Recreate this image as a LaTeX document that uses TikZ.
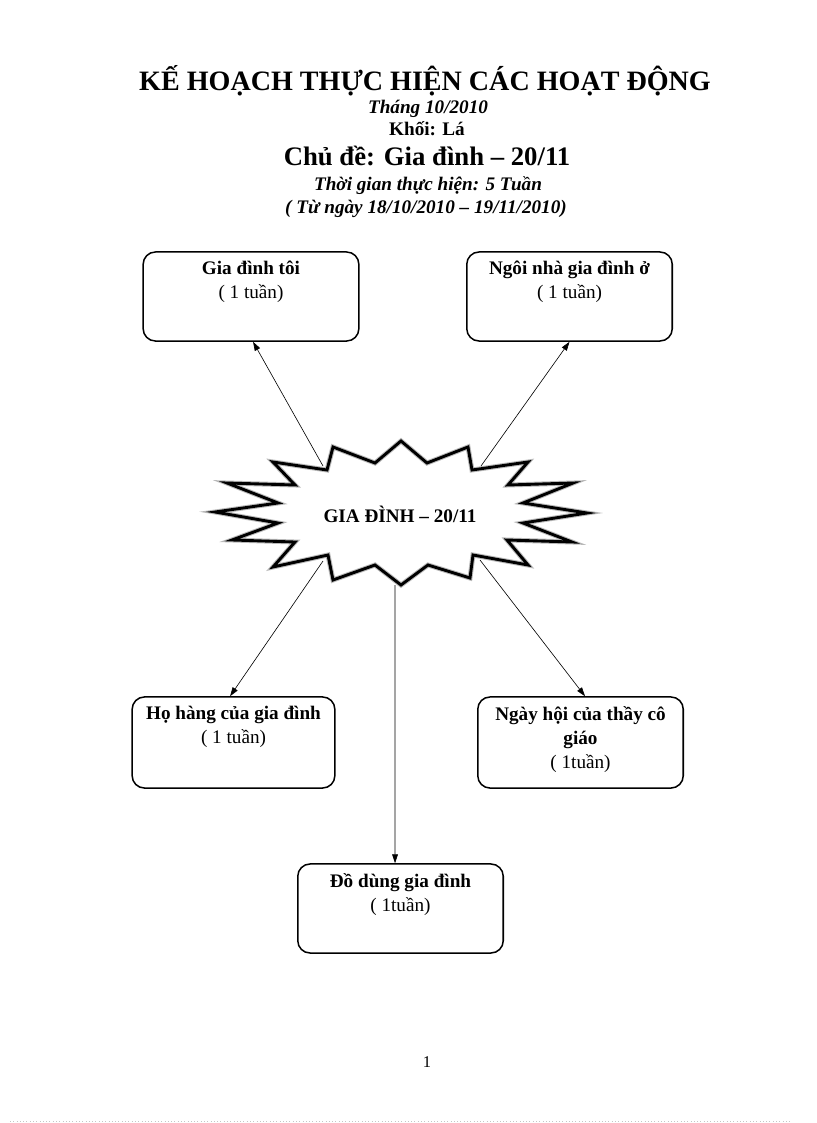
\documentclass[tikz,border=0pt]{standalone}
\usepackage{fontspec}
\setmainfont{Liberation Serif}
\usetikzlibrary{arrows.meta}

\tikzset{
  topicbox/.style={draw,line width=1.1pt,rounded corners=9pt,minimum width=150pt,minimum height=65pt},
  topictext/.style={anchor=north,align=center,inner sep=0pt,font=\fontsize{14}{17.5}\selectfont},
  subline/.style={anchor=base,font=\bfseries\itshape\fontsize{14}{16}\selectfont},
  link/.style={->,line width=0.45pt},
}

\begin{document}
\begin{tikzpicture}[x=0.73pt,y=-0.73pt,>={Triangle[length=2.3mm,width=1.5mm]}]
\useasboundingbox (0,0) rectangle (816,1123);
% heading
\node[anchor=base,font=\bfseries\fontsize{20.5}{24}\selectfont] (title) at (425,91) {KẾ HOẠCH THỰC HIỆN CÁC HOẠT ĐỘNG};
\node[subline] (month) at (428,114) {Tháng 10/2010};
\node[subline,font=\bfseries\fontsize{14}{16}\selectfont] (grade) at (427,136) {Khối: Lá};
\node[anchor=base,font=\bfseries\fontsize{19.5}{22}\selectfont] (theme) at (427,166) {Chủ đề: Gia đình – 20/11};
\node[subline] (span) at (428,190) {Thời gian thực hiện: 5 Tuần};
\node[subline] (dates) at (426,213) {( Từ ngày 18/10/2010 – 19/11/2010)};

% starburst
\foreach \w/\c in {3.6pt/gray!55,2.1pt/black}
  \draw[line width=\w,\c,line join=miter]
    (401,441) -- (427,463) -- (468,447) -- (472,470) -- (528,462) -- (508,485)
    -- (573,483) -- (523,503) -- (587,513) -- (523,523) -- (572,542) -- (507,540)
    -- (528,565) -- (473,555) -- (470,578) -- (428,565) -- (401,585) -- (375,565)
    -- (333,580) -- (328,555) -- (273,567) -- (295,542) -- (232,540) -- (278,523)
    -- (215,512) -- (278,503) -- (227,483) -- (295,485) -- (273,462) -- (327,470)
    -- (333,447) -- (375,463) -- cycle;
\node[anchor=base,font=\bfseries\fontsize{14}{16}\selectfont] (hub) at (400,522) {GIA ĐÌNH – 20/11};
\coordinate (hubNW) at (323,466);
\coordinate (hubNE) at (481,466);
\coordinate (hubSW) at (323,561);
\coordinate (hubSE) at (480,560);
\coordinate (hubS) at (395,585);

% topics
\node[topicbox,minimum width=157.5pt] (family) at (251,296.5) {};
\node[topictext] at (251,261) {\textbf{Gia đình tôi}\\( 1 tuần)};
\node[topicbox] (house) at (569.5,296.5) {};
\node[topictext] at (569.5,261) {\textbf{Ngôi nhà gia đình ở}\\( 1 tuần)};
\node[topicbox,minimum width=148pt,minimum height=66.5pt] (kin) at (233.5,742.5) {};
\node[topictext] at (233.5,706) {\textbf{Họ hàng của gia đình}\\( 1 tuần)};
\node[topicbox,minimum height=66.5pt] (teacher) at (580.5,742.5) {};
\node[topictext] at (580.5,706) {\textbf{Ngày hội của thầy cô}\\\textbf{giáo}\\( 1tuần)};
\node[topicbox] (things) at (400.5,908.5) {};
\node[topictext] at (400.5,873) {\textbf{Đồ dùng gia đình}\\( 1tuần)};

% links
\draw[link] (hubNW) -- ([xshift=1.5pt]family.south);
\draw[link] (hubNE) -- (house.south);
\draw[link] (hubSW) -- ([xshift=-2.5pt]kin.north);
\draw[link] (hubSE) -- ([xshift=3.3pt]teacher.north);
\draw[link] (hubS) -- ([xshift=-4pt]things.north);

\node[font=\fontsize{12}{14}\selectfont] (page) at (427,1062) {1};
\draw[gray!45,dotted] (10,1121.5) -- (792,1121.5);
\end{tikzpicture}
\end{document}
